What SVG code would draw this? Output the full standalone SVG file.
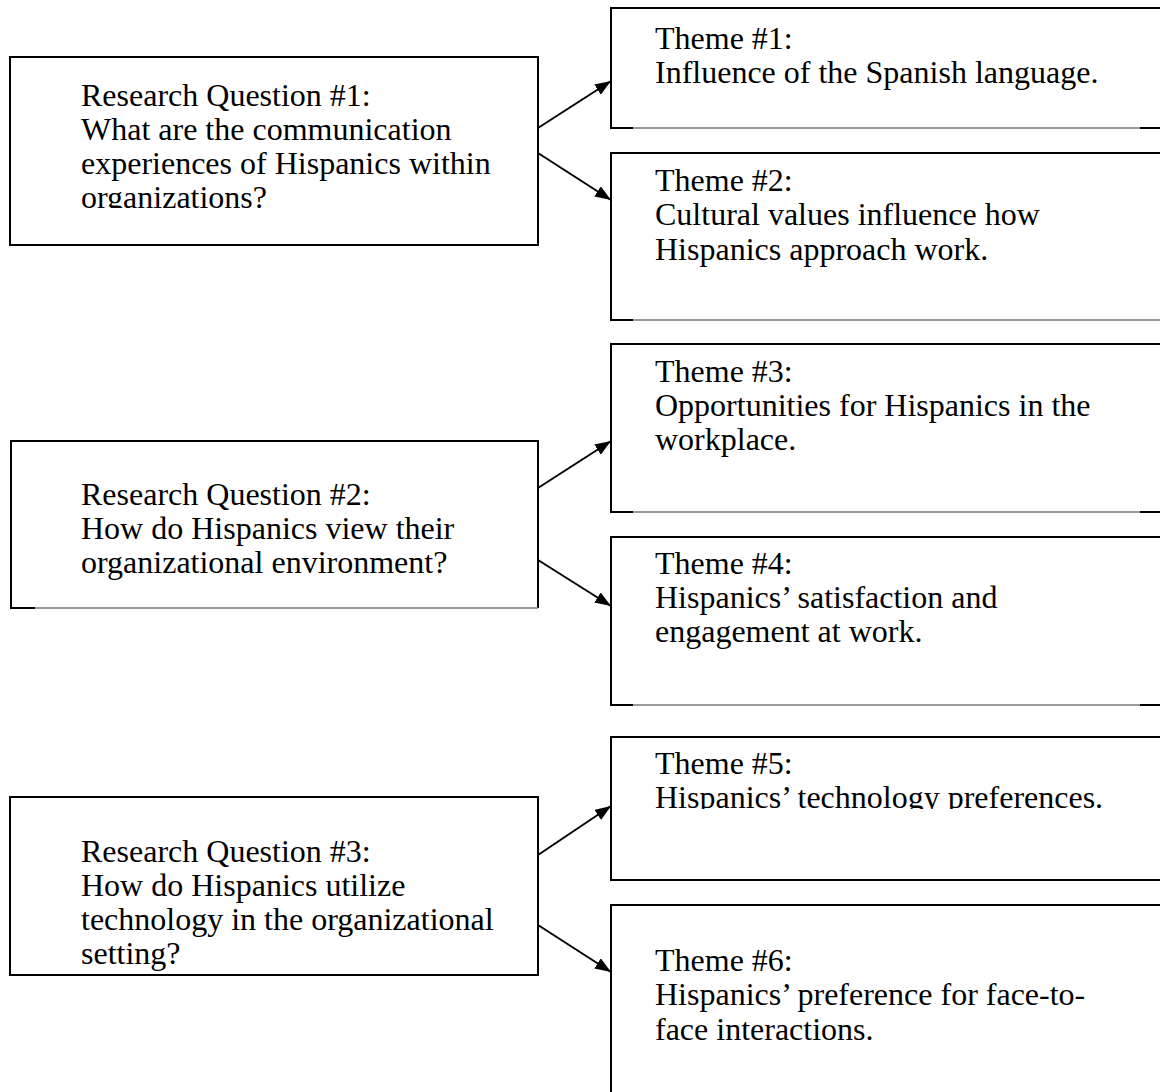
<svg xmlns="http://www.w3.org/2000/svg" width="1160" height="1092" viewBox="0 0 1160 1092">
<style>
.box{fill:#fff;stroke:#000;stroke-width:2}
.edge{stroke:#000;stroke-width:2;fill:none}
.grey{stroke:#7a7a7a;stroke-width:1.5;fill:none}
.t{font-family:"Liberation Serif","Times New Roman",serif;font-size:32px;fill:#000}
.c{stroke:#000;stroke-width:2;fill:none;marker-end:url(#ah)}
</style>
<defs>
<marker id="ah" viewBox="0 0 16 12" refX="16" refY="6" markerWidth="16" markerHeight="12" markerUnits="userSpaceOnUse" orient="auto">
<path d="M0,0 L16,6 L0,12 z" fill="#000"/>
</marker>
<clipPath id="clipRQ1"><rect x="0" y="0" width="560" height="208"/></clipPath>
<clipPath id="clipT5"><rect x="600" y="700" width="560" height="109"/></clipPath>
</defs>
<rect width="1160" height="1092" fill="#fff"/>

<g id="rq1">
<rect class="box" x="10" y="57" width="528" height="188"/>
<g clip-path="url(#clipRQ1)">
<text class="t" x="81" y="106">Research Question #1:</text>
<text class="t" x="81" y="140">What are the communication</text>
<text class="t" x="81" y="174">experiences of Hispanics within</text>
<text class="t" x="81" y="208">organizations?</text>
</g>
</g>

<g id="rq2">
<path class="edge" d="M35,608 L11,608 L11,441 L538,441 L538,608"/>
<path class="grey" d="M35,608 L538,608"/>
<text class="t" x="81" y="505">Research Question #2:</text>
<text class="t" x="81" y="539">How do Hispanics view their</text>
<text class="t" x="81" y="573">organizational environment?</text>
</g>

<g id="rq3">
<rect class="box" x="10" y="797" width="528" height="178"/>
<text class="t" x="81" y="862">Research Question #3:</text>
<text class="t" x="81" y="896">How do Hispanics utilize</text>
<text class="t" x="81" y="930">technology in the organizational</text>
<text class="t" x="81" y="964">setting?</text>
</g>

<g id="theme1">
<path class="edge" d="M633,128 L611,128 L611,8 L1162,8"/>
<path class="grey" d="M633,128 L1140,128"/>
<path class="edge" d="M1140,128 L1162,128"/>
<text class="t" x="655" y="49">Theme #1:</text>
<text class="t" x="655" y="83">Influence of the Spanish language.</text>
</g>

<g id="theme2">
<path class="edge" d="M633,320 L611,320 L611,153 L1162,153"/>
<path class="grey" d="M633,320 L1162,320"/>
<text class="t" x="655" y="191">Theme #2:</text>
<text class="t" x="655" y="225">Cultural values influence how</text>
<text class="t" x="655" y="260">Hispanics approach work.</text>
</g>

<g id="theme3">
<path class="edge" d="M633,512 L611,512 L611,344 L1162,344"/>
<path class="grey" d="M633,512 L1140,512"/>
<path class="edge" d="M1140,512 L1162,512"/>
<text class="t" x="655" y="382">Theme #3:</text>
<text class="t" x="655" y="416">Opportunities for Hispanics in the</text>
<text class="t" x="655" y="450">workplace.</text>
</g>

<g id="theme4">
<path class="edge" d="M633,705 L611,705 L611,537 L1162,537"/>
<path class="grey" d="M633,705 L1140,705"/>
<path class="edge" d="M1140,705 L1162,705"/>
<text class="t" x="655" y="574">Theme #4:</text>
<text class="t" x="655" y="608">Hispanics’ satisfaction and</text>
<text class="t" x="655" y="642">engagement at work.</text>
</g>

<g id="theme5">
<path class="edge" d="M1162,880 L611,880 L611,737 L1162,737"/>
<g clip-path="url(#clipT5)">
<text class="t" x="655" y="774">Theme #5:</text>
<text class="t" x="655" y="808">Hispanics’ technology preferences.</text>
</g>
</g>

<g id="theme6">
<path class="edge" d="M611,1094 L611,905 L1162,905"/>
<text class="t" x="655" y="971">Theme #6:</text>
<text class="t" x="655" y="1005">Hispanics’ preference for face-to-</text>
<text class="t" x="655" y="1040">face interactions.</text>
</g>

<g id="connectors">
<line class="c" x1="538" y1="128" x2="611" y2="81"/>
<line class="c" x1="538" y1="153" x2="611" y2="200"/>
<line class="c" x1="538" y1="488" x2="611" y2="441"/>
<line class="c" x1="538" y1="560" x2="611" y2="606"/>
<line class="c" x1="538" y1="855" x2="611" y2="806"/>
<line class="c" x1="538" y1="925" x2="611" y2="972"/>
</g>
</svg>
